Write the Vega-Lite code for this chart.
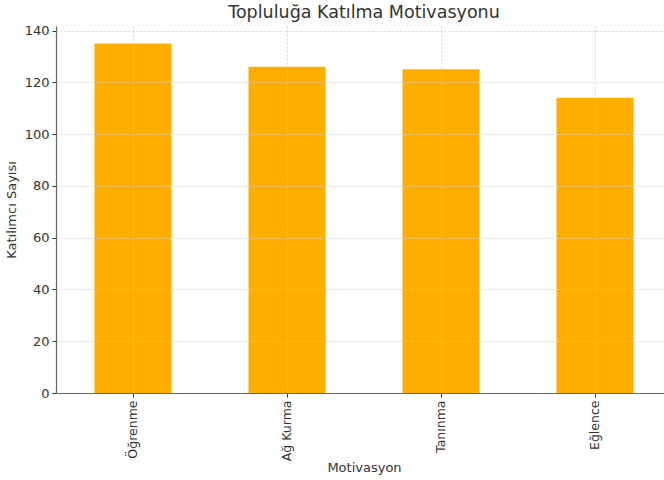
{
  "$schema": "https://vega.github.io/schema/vega-lite/v6.json",
  "autosize": "none",
  "padding": {"left": 56, "top": 26, "right": 0, "bottom": 87},
  "width": 616,
  "height": 367,
  "background": "white",
  "title": {"text": "Topluluğa Katılma Motivasyonu", "font": "DejaVu Sans", "fontSize": 17.5, "fontWeight": "normal", "color": "#333333", "offset": 3},
  "data": {"values": [
    {"Motivasyon": "Öğrenme", "Sayi": 135},
    {"Motivasyon": "Ağ Kurma", "Sayi": 126},
    {"Motivasyon": "Tanınma", "Sayi": 125},
    {"Motivasyon": "Eğlence", "Sayi": 114}
  ]},
  "mark": {"type": "bar", "color": "#FFAE00"},
  "encoding": {
    "x": {
      "field": "Motivasyon", "type": "nominal", "sort": null,
      "scale": {"paddingInner": 0.5, "paddingOuter": 0.25},
      "axis": {
        "title": "Motivasyon", "labelAngle": -90, "bandPosition": 0.5,
        "grid": true, "gridDash": [2, 2], "gridColor": "#cccccc", "gridWidth": 0.8,
        "zindex": 1, "domainColor": "#666666", "domainWidth": 1.2, "tickColor": "#333333", "tickSize": 4,
        "labelFont": "DejaVu Sans", "labelFontSize": 12.5, "labelColor": "#333333", "labelPadding": 3,
        "titleFont": "DejaVu Sans", "titleFontSize": 13, "titleFontWeight": "normal", "titleColor": "#333333", "titlePadding": 1
      }
    },
    "y": {
      "field": "Sayi", "type": "quantitative",
      "scale": {"domain": [0, 141.75], "nice": false},
      "axis": {
        "title": "Katılımcı Sayısı", "values": [0, 20, 40, 60, 80, 100, 120, 140],
        "grid": true, "gridDash": [2, 2], "gridColor": "#cccccc", "gridWidth": 0.8,
        "zindex": 1, "domainColor": "#666666", "domainWidth": 1.2, "tickColor": "#333333", "tickSize": 4,
        "labelFont": "DejaVu Sans", "labelFontSize": 13, "labelColor": "#333333", "labelPadding": 3,
        "titleFont": "DejaVu Sans", "titleFontSize": 13, "titleFontWeight": "normal", "titleColor": "#333333", "titlePadding": 6
      }
    }
  },
  "config": {"view": {"stroke": null}}
}
